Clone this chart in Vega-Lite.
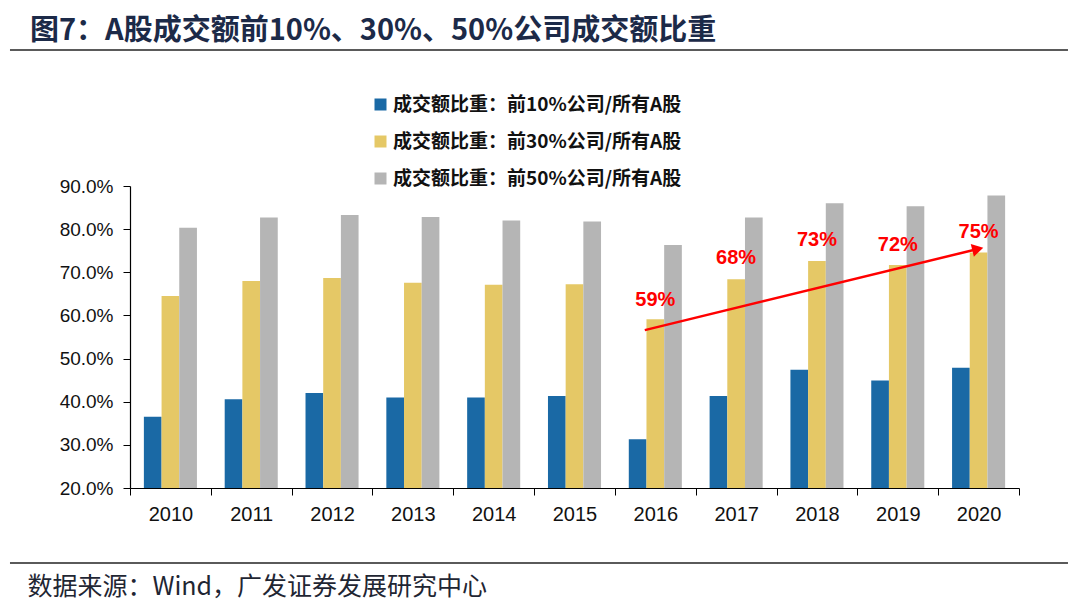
{
  "$schema": "https://vega.github.io/schema/vega-lite/v6.json",
  "width": 889,
  "height": 302,
  "autosize": "none",
  "padding": {"left": 130, "top": 186, "right": 61, "bottom": 126},
  "background": "white",
  "config": {"view": {"stroke": null}, "font": "Liberation Sans"},
  "title": {
    "text": "图7：A股成交额前10%、30%、50%公司成交额比重",
    "anchor": "start",
    "frame": "group",
    "dx": -100,
    "dy": -3,
    "offset": 0,
    "fontSize": 29,
    "font": "Noto Sans CJK SC",
    "fontWeight": "bold",
    "color": "#1c2a48"
  },
  "datasets": {
    "bars": [
      {"year": "2010", "series": "成交额比重：前10%公司/所有A股", "value": 0.365},
      {"year": "2010", "series": "成交额比重：前30%公司/所有A股", "value": 0.645},
      {"year": "2010", "series": "成交额比重：前50%公司/所有A股", "value": 0.803},
      {"year": "2011", "series": "成交额比重：前10%公司/所有A股", "value": 0.406},
      {"year": "2011", "series": "成交额比重：前30%公司/所有A股", "value": 0.680},
      {"year": "2011", "series": "成交额比重：前50%公司/所有A股", "value": 0.827},
      {"year": "2012", "series": "成交额比重：前10%公司/所有A股", "value": 0.420},
      {"year": "2012", "series": "成交额比重：前30%公司/所有A股", "value": 0.687},
      {"year": "2012", "series": "成交额比重：前50%公司/所有A股", "value": 0.833},
      {"year": "2013", "series": "成交额比重：前10%公司/所有A股", "value": 0.410},
      {"year": "2013", "series": "成交额比重：前30%公司/所有A股", "value": 0.676},
      {"year": "2013", "series": "成交额比重：前50%公司/所有A股", "value": 0.828},
      {"year": "2014", "series": "成交额比重：前10%公司/所有A股", "value": 0.410},
      {"year": "2014", "series": "成交额比重：前30%公司/所有A股", "value": 0.671},
      {"year": "2014", "series": "成交额比重：前50%公司/所有A股", "value": 0.820},
      {"year": "2015", "series": "成交额比重：前10%公司/所有A股", "value": 0.413},
      {"year": "2015", "series": "成交额比重：前30%公司/所有A股", "value": 0.672},
      {"year": "2015", "series": "成交额比重：前50%公司/所有A股", "value": 0.818},
      {"year": "2016", "series": "成交额比重：前10%公司/所有A股", "value": 0.313},
      {"year": "2016", "series": "成交额比重：前30%公司/所有A股", "value": 0.591},
      {"year": "2016", "series": "成交额比重：前50%公司/所有A股", "value": 0.763},
      {"year": "2017", "series": "成交额比重：前10%公司/所有A股", "value": 0.413},
      {"year": "2017", "series": "成交额比重：前30%公司/所有A股", "value": 0.684},
      {"year": "2017", "series": "成交额比重：前50%公司/所有A股", "value": 0.827},
      {"year": "2018", "series": "成交额比重：前10%公司/所有A股", "value": 0.474},
      {"year": "2018", "series": "成交额比重：前30%公司/所有A股", "value": 0.726},
      {"year": "2018", "series": "成交额比重：前50%公司/所有A股", "value": 0.860},
      {"year": "2019", "series": "成交额比重：前10%公司/所有A股", "value": 0.449},
      {"year": "2019", "series": "成交额比重：前30%公司/所有A股", "value": 0.717},
      {"year": "2019", "series": "成交额比重：前50%公司/所有A股", "value": 0.853},
      {"year": "2020", "series": "成交额比重：前10%公司/所有A股", "value": 0.479},
      {"year": "2020", "series": "成交额比重：前30%公司/所有A股", "value": 0.746},
      {"year": "2020", "series": "成交额比重：前50%公司/所有A股", "value": 0.878}
    ],
    "labels": [
      {"label": "59%", "x": 2016, "y": 0.636},
      {"label": "68%", "x": 2017, "y": 0.733},
      {"label": "73%", "x": 2018, "y": 0.775},
      {"label": "72%", "x": 2019, "y": 0.763},
      {"label": "75%", "x": 2020, "y": 0.793}
    ],
    "arrow": [
      {"x": 2015.87, "y": 0.566, "x2": 2019.99, "y2": 0.754, "angle": 346.3}
    ],
    "separators": [
      {"x": 2008.015, "x2": 2021.106, "y": 1.2153},
      {"x": 2008.015, "x2": 2021.106, "y": 0.0261}
    ]
  },
  "layer": [
    {
      "data": {"name": "bars"},
      "mark": {"type": "bar", "clip": true},
      "encoding": {
        "x": {
          "field": "year",
          "type": "nominal",
          "scale": {"paddingInner": 0, "paddingOuter": 0},
          "axis": {
            "title": "数据来源：Wind，广发证券发展研究中心",
            "titleFont": "Noto Sans CJK SC",
            "titleFontSize": 25,
            "titleFontWeight": "normal",
            "titleColor": "#1f2633",
            "titleAnchor": "start",
            "titleAlign": "left",
            "titleBaseline": "alphabetic",
            "titleX": -103,
            "titleY": 106,
            "labelAngle": 0,
            "labelFontSize": 20,
            "labelColor": "#111111",
            "labelPadding": 9,
            "tickBand": "extent",
            "tickSize": 7,
            "tickColor": "#000000",
            "domainColor": "#000000",
            "domainWidth": 1.2
          }
        },
        "xOffset": {
          "field": "series",
          "type": "nominal",
          "scale": {"paddingInner": 0, "paddingOuter": 0.785}
        },
        "y": {
          "field": "value",
          "type": "quantitative",
          "scale": {"domain": [0.2, 0.9], "nice": false, "zero": false},
          "axis": {
            "title": null,
            "format": ".1%",
            "values": [0.2, 0.3, 0.4, 0.5, 0.6, 0.7, 0.8, 0.9],
            "grid": false,
            "labelFontSize": 19,
            "labelColor": "#111111",
            "labelPadding": 10,
            "tickSize": 7,
            "tickColor": "#000000",
            "domainColor": "#000000",
            "domainWidth": 1.2
          }
        },
        "color": {
          "field": "series",
          "type": "nominal",
          "scale": {
            "domain": ["成交额比重：前10%公司/所有A股", "成交额比重：前30%公司/所有A股", "成交额比重：前50%公司/所有A股"],
            "range": ["#1a69a5", "#e5c866", "#b5b5b5"]
          },
          "legend": {
            "title": null,
            "orient": "none",
            "legendX": 241,
            "legendY": -91,
            "padding": 0,
            "symbolType": "square",
            "symbolSize": 144,
            "symbolStrokeWidth": 0,
            "labelFont": "Noto Sans CJK SC",
            "labelFontSize": 19,
            "labelFontWeight": "bold",
            "labelColor": "#111111",
            "labelOffset": 3,
            "labelLimit": 400,
            "rowPadding": 17
          }
        }
      }
    },
    {
      "data": {"name": "separators"},
      "mark": {"type": "rule", "color": "#5a5a5a", "strokeWidth": 2, "clip": false},
      "encoding": {
        "x": {"field": "x", "type": "quantitative", "scale": {"domain": [2009.5, 2020.5], "nice": false, "zero": false}, "axis": null},
        "x2": {"field": "x2"},
        "y": {"field": "y", "type": "quantitative", "scale": {"domain": [0.2, 0.9], "nice": false, "zero": false}}
      }
    },
    {
      "data": {"name": "arrow"},
      "mark": {"type": "rule", "color": "#ff0000", "strokeWidth": 2.5},
      "encoding": {
        "x": {"field": "x", "type": "quantitative", "scale": {"domain": [2009.5, 2020.5], "nice": false, "zero": false}, "axis": null},
        "x2": {"field": "x2"},
        "y": {"field": "y", "type": "quantitative", "scale": {"domain": [0.2, 0.9], "nice": false, "zero": false}},
        "y2": {"field": "y2"}
      }
    },
    {
      "data": {"name": "arrow"},
      "mark": {"type": "point", "shape": "triangle-right", "filled": true, "color": "#ff0000", "size": 170, "opacity": 1},
      "encoding": {
        "x": {"field": "x2", "type": "quantitative", "scale": {"domain": [2009.5, 2020.5], "nice": false, "zero": false}, "axis": null},
        "y": {"field": "y2", "type": "quantitative", "scale": {"domain": [0.2, 0.9], "nice": false, "zero": false}},
        "angle": {"field": "angle", "type": "quantitative", "scale": null}
      }
    },
    {
      "data": {"name": "labels"},
      "mark": {"type": "text", "color": "#ff0000", "fontSize": 20, "fontWeight": "bold", "baseline": "middle", "align": "center"},
      "encoding": {
        "x": {"field": "x", "type": "quantitative", "scale": {"domain": [2009.5, 2020.5], "nice": false, "zero": false}, "axis": null},
        "y": {"field": "y", "type": "quantitative", "scale": {"domain": [0.2, 0.9], "nice": false, "zero": false}},
        "text": {"field": "label"}
      }
    }
  ],
  "resolve": {"scale": {"x": "independent"}}
}
